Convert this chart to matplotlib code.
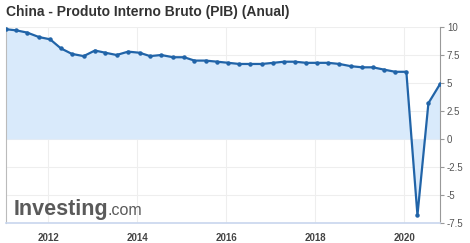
import matplotlib.pyplot as plt
import numpy as np

plt.rcParams['font.family'] = ['Liberation Sans', 'DejaVu Sans']

# release dates and annual GDP growth (%)
dates = [
    '2011-01-20', '2011-04-15', '2011-07-13', '2011-10-18',
    '2012-01-17', '2012-04-13', '2012-07-13', '2012-10-18',
    '2013-01-18', '2013-04-15', '2013-07-15', '2013-10-18',
    '2014-01-20', '2014-04-16', '2014-07-16', '2014-10-21',
    '2015-01-20', '2015-04-15', '2015-07-15', '2015-10-19',
    '2016-01-19', '2016-04-15', '2016-07-15', '2016-10-19',
    '2017-01-20', '2017-04-17', '2017-07-17', '2017-10-19',
    '2018-01-18', '2018-04-17', '2018-07-16', '2018-10-19',
    '2019-01-21', '2019-04-17', '2019-07-15', '2019-10-18',
    '2020-01-17', '2020-04-17', '2020-07-16', '2020-10-19',
]
gdp = [
    9.8, 9.7, 9.5, 9.1,
    8.9, 8.1, 7.6, 7.4,
    7.9, 7.7, 7.5, 7.8,
    7.7, 7.4, 7.5, 7.3,
    7.3, 7.0, 7.0, 6.9,
    6.8, 6.7, 6.7, 6.7,
    6.8, 6.9, 6.9, 6.8,
    6.8, 6.8, 6.7, 6.5,
    6.4, 6.4, 6.2, 6.0,
    6.0, -6.8, 3.2, 4.9,
]
yticks = [10, 7.5, 5, 2.5, 0, -2.5, -5, -7.5]
ytick_labels = ['10', '7.5', '5', '2.5', '0', '-2.5', '-5', '-7.5']
xyears = [2012, 2014, 2016, 2018, 2020]

x = np.array(dates, dtype='datetime64[D]')

fig = plt.figure(figsize=(4.7, 2.43), dpi=100)
ax = fig.add_axes([6 / 470, 1 - 223 / 243, 434 / 470, 196 / 243])

ax.fill_between(x, gdp, 0, color='#d9eafb', linewidth=0, zorder=1)
ax.plot(x, gdp, color='#2164a8', linewidth=1.6, marker='o', markersize=2.2, zorder=3)

ax.set_xlim(x[0], x[-1])
ax.set_ylim(-7.5, 10)
ax.set_yticks(yticks)
ax.set_yticklabels(ytick_labels)
ax.set_xticks([np.datetime64(f'{y}-01-01') for y in xyears])
ax.set_xticklabels([str(y) for y in xyears])

ax.yaxis.tick_right()
ax.tick_params(axis='y', length=3, width=0.8, color='#999999', labelsize=7,
               labelcolor='#555555', pad=2)
ax.tick_params(axis='x', length=0, labelsize=7, labelcolor='#444444', pad=7)
for lab in ax.get_xticklabels():
    lab.set_fontweight('bold')

ax.grid(True, color='#eeeeee', linewidth=0.8, zorder=0)
ax.set_axisbelow(True)
ax.spines['top'].set_visible(False)
ax.spines['left'].set_color('#bbbbbb')
ax.spines['left'].set_linewidth(0.8)
ax.spines['right'].set_color('#999999')
ax.spines['right'].set_linewidth(0.8)
ax.spines['bottom'].set_color('#c8d6ee')
ax.spines['bottom'].set_linewidth(1.2)

fig.text(6 / 470, 1 - 12 / 243, 'China - Produto Interno Bruto (PIB) (Anual)',
         fontsize=10, fontweight='bold', color='#333333', va='center', ha='left')

# watermark
ax.text(0.018, 0.042, 'Investing', transform=ax.transAxes, fontsize=15.5,
        fontweight='bold', color='#5a5a5a', ha='left', va='baseline', zorder=4)
ax.text(0.233, 0.042, '.com', transform=ax.transAxes, fontsize=11.5,
        color='#5a5a5a', ha='left', va='baseline', zorder=4)

fig.savefig('out.png', dpi=100)
